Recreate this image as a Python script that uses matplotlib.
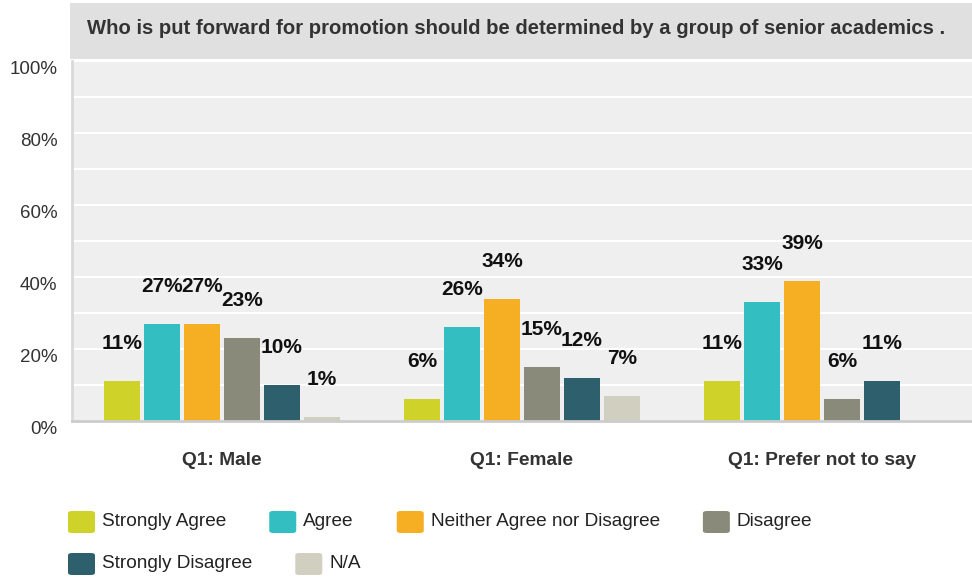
import matplotlib
matplotlib.use('Agg')
import matplotlib.pyplot as plt
import matplotlib.transforms as mtransforms
from matplotlib.patches import Rectangle, FancyBboxPatch
import numpy as np

plt.rcParams['font.family'] = ['Liberation Sans', 'DejaVu Sans']

# Survey data
title = 'Who is put forward for promotion should be determined by a group of senior academics .'
groups = ['Q1: Male', 'Q1: Female', 'Q1: Prefer not to say']
answers = ['Strongly Agree', 'Agree', 'Neither Agree nor Disagree',
           'Disagree', 'Strongly Disagree', 'N/A']
colors = ['#cfd329', '#33bec1', '#f6ae22', '#8a8a7a', '#2e5f6d', '#d0cfc0']
values = {
    'Strongly Agree':             [11, 6, 11],
    'Agree':                      [27, 26, 33],
    'Neither Agree nor Disagree': [27, 34, 39],
    'Disagree':                   [23, 15, 6],
    'Strongly Disagree':          [10, 12, 11],
    'N/A':                        [1, 7, 0],
}
y_ticks = [0, 20, 40, 60, 80, 100]

W, H = 972, 580
fig = plt.figure(figsize=(W / 100, H / 100), dpi=100)

def px_box(x0, y0, x1, y1):
    # pixel box (top-left origin) -> figure fraction rect
    return [x0 / W, 1 - y1 / H, (x1 - x0) / W, (y1 - y0) / H]

# title bar
fig.patches.append(Rectangle((70 / W, 1 - 59 / H), (W - 70) / W, 56 / H,
                             transform=fig.transFigure, facecolor='#e0e0e0',
                             edgecolor='none', zorder=0))
fig.text(87 / W, 1 - 29 / H, title, fontsize=14.6, fontweight='bold',
         color='#333333', va='center', ha='left')

ax = fig.add_axes(px_box(72, 61, 972, 421))
ax.set_facecolor('#efefef')

x = np.arange(len(groups))
width = 0.123
pitch = 0.1333
for i, ans in enumerate(answers):
    offs = (i - (len(answers) - 1) / 2) * pitch
    vals = values[ans]
    ax.bar(x + offs, vals, width, color=colors[i], zorder=3)
    for xi, v in zip(x + offs, vals):
        if v == 0:
            continue
        ax.annotate(f'{v}%', (xi, v), xytext=(0, 27), textcoords='offset points',
                    ha='center', va='center', fontsize=15, fontweight='bold',
                    color='#111111', zorder=4)

ax.set_xlim(-0.5, 2.5)
ax.set_ylim(0, 100)
ax.set_yticks(np.arange(0, 101, 10), minor=True)
ax.set_yticks(y_ticks)
ax.set_yticklabels([f'{t}%' for t in y_ticks], fontsize=13.5, color='#333333')
ax.grid(axis='y', which='both', color='white', linewidth=1.5, zorder=1)
ax.grid(axis='x', visible=False)
ax.tick_params(axis='y', which='both', length=0, pad=10.5)
shift = mtransforms.ScaledTranslation(0, -6 / 100, fig.dpi_scale_trans)
for lab in ax.get_yticklabels():
    lab.set_transform(lab.get_transform() + shift)

ax.set_xticks(x)
ax.set_xticklabels(groups, fontsize=13.8, fontweight='bold', color='#333333')
ax.tick_params(axis='x', length=0, pad=22)

for side in ['top', 'right']:
    ax.spines[side].set_visible(False)
ax.spines['left'].set_color('#d9d9d9')
ax.spines['left'].set_linewidth(2)
ax.spines['bottom'].set_color('#cccccc')
ax.spines['bottom'].set_linewidth(2)
ax.spines['bottom'].set_zorder(5)

# legend, laid out as a flowing row of swatches
fig.canvas.draw()
renderer = fig.canvas.get_renderer()
lx, ly = 68, 522
row_gap = 42
for name, col in zip(answers, colors):
    t = fig.text(0, 0, name, fontsize=13.7, color='#222222', va='center', ha='left')
    tw = t.get_window_extent(renderer).width
    if lx + 34 + tw > 870:
        lx = 68
        ly += row_gap
    fig.patches.append(FancyBboxPatch(((lx) / W, 1 - (ly + 11) / H), 27 / W, 22 / H,
                                      boxstyle='round,pad=0,rounding_size=0.004',
                                      transform=fig.transFigure, facecolor=col,
                                      edgecolor='none'))
    t.set_position(((lx + 34) / W, 1 - ly / H))
    lx += 34 + tw + 43

fig.savefig('out.png', dpi=100)
